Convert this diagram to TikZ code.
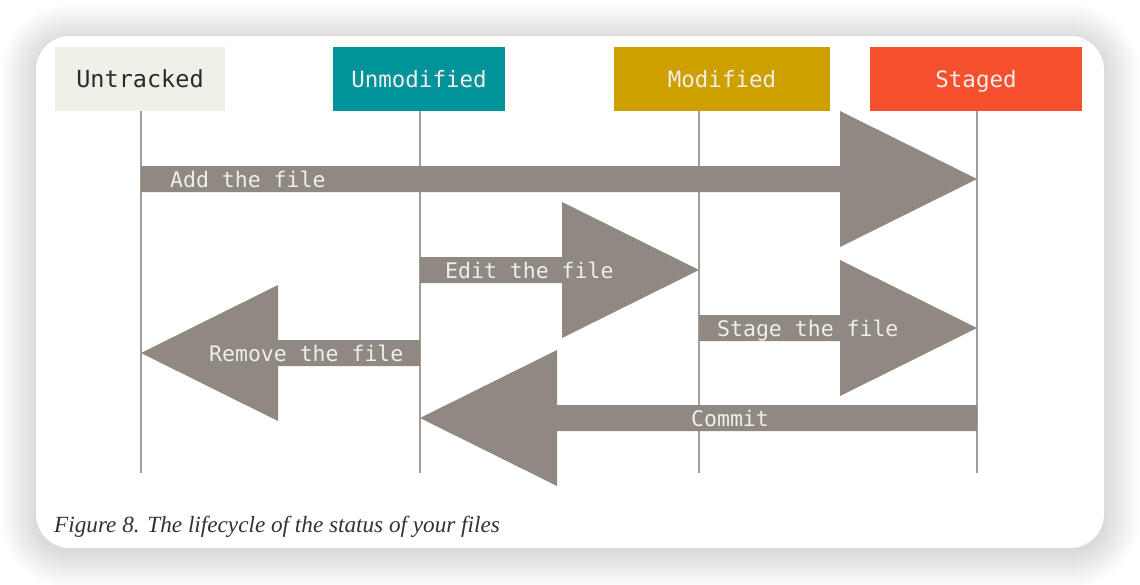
\documentclass[tikz,border=0pt]{standalone}
\usepackage{fontspec}
\setmainfont{Liberation Serif}
\newfontfamily\monof{DejaVu Sans Mono}
\usetikzlibrary{calc}
\definecolor{untrackedc}{HTML}{F0EFE8}
\definecolor{unmodc}{HTML}{00939A}
\definecolor{modc}{HTML}{CDA000}
\definecolor{stagedc}{HTML}{F5502E}
\definecolor{arrowc}{HTML}{8F8981}
\definecolor{linec}{HTML}{A29D96}
\definecolor{lighttext}{HTML}{F0EEE8}
\definecolor{darktext}{HTML}{2B2B2B}
\definecolor{captionc}{HTML}{333333}
\newcommand{\fatarrow}[2]{%
  \fill[arrowc] let \p1=(#1), \p2=(#2), \n1={sign(\x2-\x1)} in
    (\x1,\y1+13pt) -- ({\x2-\n1*137pt},\y1+13pt) -- ({\x2-\n1*137pt},\y1+68pt)
    -- (\x2,\y1) -- ({\x2-\n1*137pt},\y1-68pt) -- ({\x2-\n1*137pt},\y1-13pt)
    -- (\x1,\y1-13pt) -- cycle;}
\begin{document}
\begin{tikzpicture}[x=1pt,y=-1pt,
  statebox/.style={minimum height=64pt, inner sep=0pt, outer sep=0pt,
    text height=16.5pt, text depth=0pt,
    font=\monof\fontsize{22.5}{27}\selectfont},
  lifeline/.style={draw=linec, line width=1.5pt},
  lbl/.style={anchor=base west, inner sep=0pt, text=lighttext,
    font=\monof\fontsize{21.5}{26}\selectfont}]
\useasboundingbox (0,0) rectangle (1140,584);
\fill[white] (0,0) rectangle (1140,584);
% soft shadow of the card
\foreach \i in {1,...,36}
  \fill[black, opacity=0.0048, rounded corners={34pt+\i pt}]
    (36-\i,40-\i) rectangle (1104+\i,552+\i);
\fill[white, rounded corners=34pt] (36,36) rectangle (1104,548);

% state boxes
\node[statebox, fill=untrackedc, text=darktext, minimum width=170pt,
  font=\monof\fontsize{23.5}{28}\selectfont] (untr) at (140,79) {Untracked};
\node[statebox, fill=unmodc, text=lighttext, minimum width=172pt] (unmod) at (419,79) {Unmodified};
\node[statebox, fill=modc, text=lighttext, minimum width=216pt] (mod) at (722,79) {Modified};
\node[statebox, fill=stagedc, text=lighttext, minimum width=212pt] (stg) at (976,79) {Staged};

% lifelines
\coordinate (lU) at (141,111);
\coordinate (lN) at (420,111);
\coordinate (lM) at (699,111);
\coordinate (lS) at (977,111);
\foreach \c in {lU,lN,lM,lS} \draw[lifeline] (\c) -- ($(\c)+(0,362)$);

% arrow end points
\coordinate (add1) at ($(lU)+(0,68)$);
\coordinate (add2) at ($(lS)+(0,68)$);
\coordinate (edit1) at ($(lN)+(0,159)$);
\coordinate (edit2) at ($(lM)+(0,159)$);
\coordinate (stage1) at ($(lM)+(0,217)$);
\coordinate (stage2) at ($(lS)+(0,217)$);
\coordinate (rem1) at ($(lN)+(0,242)$);
\coordinate (rem2) at ($(lU)+(0,242)$);
\coordinate (com1) at ($(lS)+(0,307)$);
\coordinate (com2) at ($(lN)+(0,307)$);

\fatarrow{add1}{add2}
\fatarrow{edit1}{edit2}
\fatarrow{stage1}{stage2}
\fatarrow{rem1}{rem2}
\fatarrow{com1}{com2}

% labels
\node[lbl] (laddt) at ($(add1)+(29,8)$) {Add the file};
\node[lbl] (ledit) at ($(edit1)+(25,8)$) {Edit the file};
\node[lbl] (lstage) at ($(stage1)+(18,8)$) {Stage the file};
\node[lbl] (lrem) at ($(rem2)+(68,8)$) {Remove the file};
\node[lbl] (lcom) at ($(com2)+(271,8)$) {Commit};

% caption
\node[anchor=base west, inner sep=0pt, text=captionc,
  font=\itshape\fontsize{23.2}{27}\selectfont] (cap) at (54,532)
  {Figure 8. The lifecycle of the status of your files};
\end{tikzpicture}
\end{document}
